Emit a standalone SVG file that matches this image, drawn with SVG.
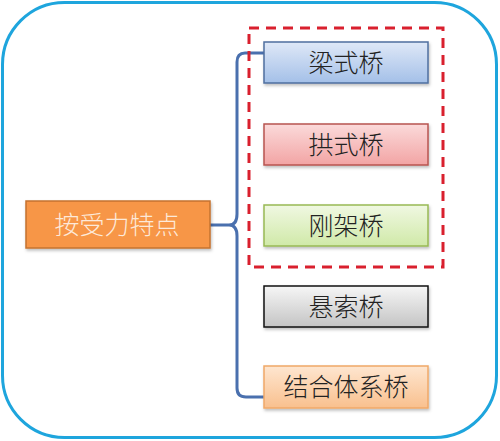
<svg xmlns="http://www.w3.org/2000/svg" width="500" height="441" viewBox="0 0 500 441">
<defs>
<linearGradient id="gBlue" x1="0" y1="0" x2="0" y2="1"><stop offset="0" stop-color="#dfe8f7"/><stop offset="1" stop-color="#a4c0e8"/></linearGradient>
<linearGradient id="gRed" x1="0" y1="0" x2="0" y2="1"><stop offset="0" stop-color="#fbdada"/><stop offset="1" stop-color="#f2a4a4"/></linearGradient>
<linearGradient id="gGreen" x1="0" y1="0" x2="0" y2="1"><stop offset="0" stop-color="#f0f8e2"/><stop offset="1" stop-color="#d0e9a8"/></linearGradient>
<linearGradient id="gGray" x1="0" y1="0" x2="0" y2="1"><stop offset="0" stop-color="#f6f6f6"/><stop offset="1" stop-color="#c4c4c4"/></linearGradient>
<linearGradient id="gOrange" x1="0" y1="0" x2="0" y2="1"><stop offset="0" stop-color="#fee6d0"/><stop offset="1" stop-color="#f9c08e"/></linearGradient>
<filter id="sh" x="-10%" y="-20%" width="120%" height="150%"><feDropShadow dx="1" dy="2" stdDeviation="1.5" flood-color="#000" flood-opacity="0.25"/></filter>
</defs>
<style>
.t{font-family:"Noto Sans CJK SC","Noto Sans CJK TC",sans-serif;font-size:25px;font-weight:300;text-anchor:middle;fill:#222}
.box{stroke-width:1.5;filter:url(#sh)}
</style>
<rect x="2.5" y="2.5" width="494" height="435" rx="62" ry="62" fill="#fff" stroke="#1ea5dd" stroke-width="3"/>
<g id="connectors">
<path d="M264,53 L245,53 Q237,53 237,62 L237,214 Q237,225 229,225 L210,225 M229,225 Q237,225 237,236 L237,388 Q237,397 246,397 L264,397" fill="none" stroke="#4a70ae" stroke-width="3" stroke-linejoin="round"/>
</g>
<rect id="group-frame" x="249" y="28" width="194" height="239" fill="none" stroke="#d9202e" stroke-width="3" stroke-dasharray="10,7"/>
<g id="root">
<rect class="box" x="26" y="201" width="184" height="47" fill="#f79646" stroke="#c5722f"/>
<text class="t" x="117" y="233.5" style="fill:#fde9d9">按受力特点</text>
</g>
<g id="beam">
<rect class="box" x="264" y="42" width="164" height="41" fill="url(#gBlue)" stroke="#4f6f9f"/>
<text class="t" x="346" y="71.5">梁式桥</text>
</g>
<g id="arch">
<rect class="box" x="264" y="124" width="164" height="41" fill="url(#gRed)" stroke="#b85450"/>
<text class="t" x="346" y="153.5">拱式桥</text>
</g>
<g id="rigid">
<rect class="box" x="264" y="205" width="164" height="41" fill="url(#gGreen)" stroke="#98b954"/>
<text class="t" x="346" y="234.5">刚架桥</text>
</g>
<g id="suspension">
<rect class="box" x="264" y="286" width="164" height="41" fill="url(#gGray)" stroke="#111"/>
<text class="t" x="346" y="315.5">悬索桥</text>
</g>
<g id="composite">
<rect class="box" x="264" y="366" width="164" height="42" fill="url(#gOrange)" stroke="#f0a868"/>
<text class="t" x="346" y="396">结合体系桥</text>
</g>
</svg>
